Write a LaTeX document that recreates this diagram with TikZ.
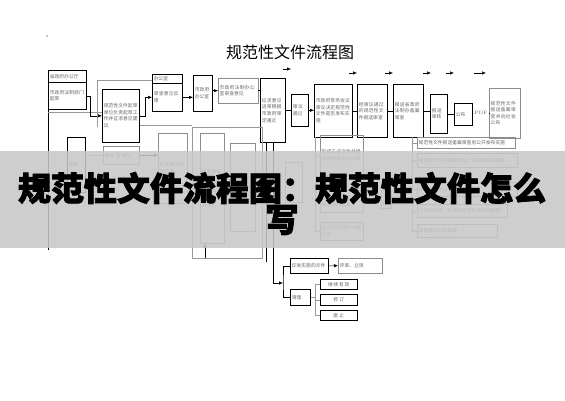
\documentclass[tikz,border=0pt]{standalone}
\usepackage{fontspec}
\newfontfamily\cjk{Noto Sans CJK SC}
\newfontfamily\cjkheavy[BoldFeatures={FakeBold=2.5}]{Noto Sans CJK SC}
\XeTeXlinebreaklocale "zh"
\XeTeXlinebreakskip = 0pt plus 1pt
\usetikzlibrary{arrows.meta}
\tikzset{
  bx/.style={draw, line width=.6pt, anchor=north west, inner sep=1.5pt, align=left,
    font=\cjk\fontsize{4.8}{6.6}\selectfont, text=black!60},
  gbx/.style={bx, draw=black!45, line width=.4pt},
  ln/.style={line width=.5pt},
  gln/.style={line width=.4pt, draw=black!40},
  arr/.style={ln, -{Latex[length=4pt,width=3.4pt]}},
}
\begin{document}
\begin{tikzpicture}[x=1pt,y=-1pt]
	\useasboundingbox (0,0) rectangle (565,400);
	\fill (47,36) circle (0.6);
	\node[font=\cjk\fontsize{16}{18}\selectfont] (title) at (290,52) {规范性文件流程图};
	% top row
	\node[bx, text width=35, minimum height=12] (Atop) at (48,70) {省政府办公厅};
	\node[bx, text width=35, minimum height=27] (Abot) at (48,82) {市政府法制部门起草};
	\node[bx, text width=34, minimum height=53] (B) at (102,89) {规范性文件起草单位负责起草工作并征求意见建议};
	\node[gbx, text width=33, minimum height=18] (B2) at (103,146) {建议 及 修订};
	\node[bx, text width=15, minimum height=55] (C) at (67,137) {备案};
	\node[bx, text width=27, minimum height=9] (Dh) at (152,74) {办公室};
	\node[bx, text width=27, minimum height=28] (Db) at (152,83) {审查意见反馈};
	\node[bx, text width=16, minimum height=36] (E) at (193,75) {市政府办公室};
	\node[gbx, text width=37, minimum height=25] (F) at (218,78) {市政府法制办公室审查意见};
	\node[bx, text width=22, minimum height=64] (G) at (260,78) {征求意见送审稿报市政府审定通过};
	\node[bx, text width=14, minimum height=32] (H) at (291,94) {审议通过};
	\node[bx, text width=35, minimum height=53] (I) at (314,84) {市政府常务会议审议决定规范性文件是否发布实施};
	\node[bx, text width=27, minimum height=53] (J) at (357,84) {经审议通过的规范性文件报送审查};
	\node[bx, text width=27, minimum height=53] (K) at (393,84) {报送省政府法制办备案审查};
	\node[bx, text width=14, minimum height=39] (L) at (430,94) {报送审核};
	\node[bx, text width=15, minimum height=22] (M) at (454,103) {公布};
	\node[font=\fontsize{4.8}{5}\selectfont, text=black!60, inner sep=1pt] (pdf) at (481,113) {PDF};
	\node[gbx, text width=28, minimum height=50] (N) at (489,88) {规范性文件报送备案审查并向社会公布};
	% middle
	\draw[gln] (192,127) rectangle (262,258);
	\node[gbx, text width=26, minimum height=70] (Q) at (158,133) {征求意见反馈汇总};
	\node[gbx, text width=21, minimum height=110] (O) at (200,133) {起草单位在规范性文件起草过程中应当广泛征求意见};
	\node[gbx, text width=22, minimum height=88] (P) at (230,143) {法制部门审核后提出意见};
	\node[gbx, text width=14, minimum height=40] (Z) at (285,162) {审定};
	\node[gbx, text width=40, minimum height=40] (R) at (320,135) {形成正式文件并报送领导签发后印发};
	\node[gbx, text width=40, minimum height=22] (R2) at (320,190) {规范性文件印发后报市政府备案};
	\node[gbx, text width=40, minimum height=18] (R3) at (320,222) {主动公示及时上网公开};
	\node[gbx, text width=7, minimum height=18] (S) at (381,190) {公布};
	\node[gbx, text width=95, minimum height=11] (T1) at (417,137) {规范性文件报送备案审查后公开发布实施};
	\node[gbx, text width=97, minimum height=14] (T2) at (417,153) {规范性文件在政府公报上公开发布并报备};
	\node[gbx, text width=97, minimum height=14] (T3) at (417,182) {规范性文件在政府网站上公开};
	\node[gbx, text width=87, minimum height=13] (T4) at (417,204) {公布的规定、办法和规范性文件的解释};
	\node[gbx, text width=77, minimum height=13] (T5) at (417,224) {其他需公开的事项};
	% bottom
	\node[bx, text width=35, minimum height=15] (U) at (290,258) {印发实施的文件};
	\node[gbx, text width=41, minimum height=15] (V) at (338,258) {评审、立项};
	\node[bx, text width=17, minimum height=16] (W) at (290,289) {清理};
	\node[bx, text width=34, minimum height=10, align=center] (X1) at (320,279) {继续有效};
	\node[bx, text width=34, minimum height=11, align=center] (X2) at (320,294) {修订};
	\node[bx, text width=34, minimum height=10, align=center] (X3) at (320,310) {废止};
	% connectors
	\draw[ln] (Abot.south west) -- ++(0,140);
	\draw[gln] (48,112) -- (B.west |- 0,112);
	\draw[arr] (Abot.east) -- ++(4,0) |- (B.west);
	\draw[arr] (B.east) -- ++(6,0) |- (Db.west);
	\draw[gln] (97,127) -- (97,80) -- (Dh.west |- 0,80);
	\draw[gln] (140,125) -- (192,125);
	\draw[arr] (Db.east) -- (Db.east -| E.west);
	\draw[arr] (E.east |- F.west) -- (F.west);
	\draw[ln] (F.east) -- (F.east -| G.west);
	\draw[ln] (G.east |- H.west) -- (H.west);
	\draw[arr] (H.east) -- (H.east -| I.west);
	\draw[ln] (I.east) -- (J.west);
	\draw[ln] (J.east) -- (K.west);
	\draw[ln] (K.east) -- (K.east -| L.west);
	\draw[ln] (L.east |- M.west) -- (M.west);
	\draw[ln] (M.east) -- (pdf.west);
	\draw[ln] (pdf.east) -- (pdf.east -| N.west);
	\draw[arr] (B2.east) -- (B2.east -| Q.west);
	\draw[gln] (C.east |- B2.west) -- (B2.west);
	\draw[arr] (205,258) -- (O.south -| 205,0);
	\foreach \x/\y in {287/69,353/73,389/73,427/73,450/73}
		\draw[arr] (\x-4,\y) -- (\x+4,\y);
	\draw[arr] (474,73) -- (486,73);
	\draw[gln] (315,137) -- (315,231);
	\foreach \n in {R,R2,R3}
		\draw[gln] (\n.west -| 315,0) -- (\n.west);
	\draw[gln] (412,137) -- (412,231);
	\foreach \n in {T1,T2,T3,T4,T5}
		\draw[gln] (\n.west -| 412,0) -- (\n.west);
	\draw[ln] (266,142) -- (266,262);
	\draw[ln] (273,142) -- (273,283);
	\coordinate (br) at (283,283);
	\draw[arr] (273,283) -- (br);
	\draw[ln] (U.west) -| (br) |- (W.west);
	\draw[arr] (U.east) -- (V.west);
	\draw[gln] (W.east) -- ++(5,0) coordinate (wb);
	\draw[gln] (X1.west) -| (wb) |- (X3.west);
	\draw[gln] (wb) |- (X2.west);
	% banner
	\fill[black!22, fill opacity=.88] (0,151) rectangle (565,248);
	\node[font=\cjkheavy\bfseries\fontsize{33}{36}\selectfont] (head) at (282,188) {规范性文件流程图：规范性文件怎么};
	\node[font=\cjkheavy\bfseries\fontsize{33}{36}\selectfont] (head2) at (282,220) {写};
\end{tikzpicture}
\end{document}
